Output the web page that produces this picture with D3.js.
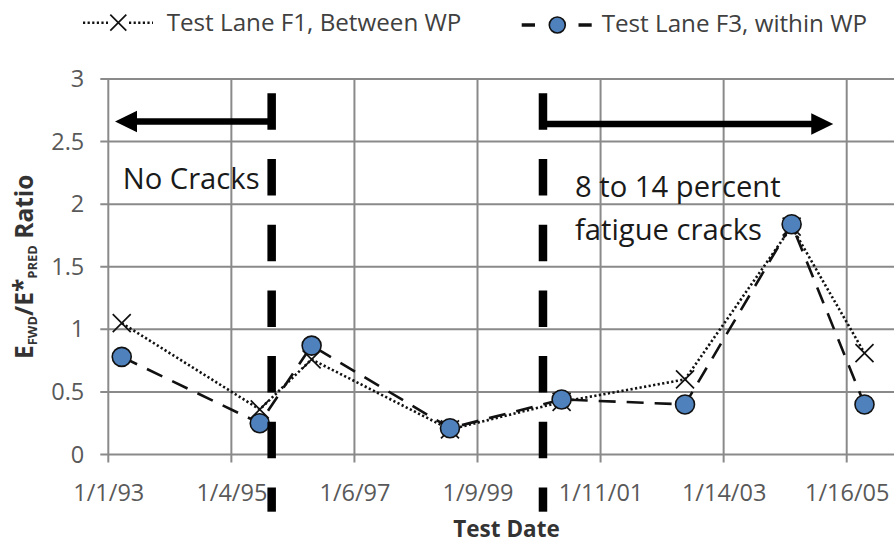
<!DOCTYPE html>
<html>
<head>
<meta charset="utf-8">
<script src="https://cdn.jsdelivr.net/npm/d3@7"></script>
<style>
  html, body { margin: 0; padding: 0; background: #fff; }
  svg { display: block; font-family: "Open Sans", "DejaVu Sans", sans-serif; }
</style>
</head>
<body>
<svg id="chart" width="894" height="543"></svg>
<script>
// Test dates (shared by both lanes)
const testDates = ["1993-03-22", "1995-06-22", "1996-04-26", "1998-07-29",
                   "2000-05-24", "2002-05-29", "2004-02-23", "2005-05-02"];
// EFWD / E*PRED ratios
const laneF1Between = [1.05, 0.36, 0.76, 0.20, 0.42, 0.60, 1.82, 0.81];
const laneF3Within  = [0.78, 0.25, 0.87, 0.21, 0.44, 0.40, 1.84, 0.40];

const xTickLabels = ["1/1/93", "1/4/95", "1/6/97", "1/9/99", "1/11/01", "1/14/03", "1/16/05"];
const yTicks = [0, 0.5, 1, 1.5, 2, 2.5, 3];
const yTickLabels = ["0", "0.5", "1", "1.5", "2", "2.5", "3"];

const seriesNames = ["Test Lane F1, Between WP", "Test Lane F3, within WP"];

// Crack-state markers: boundary dates and the arrows spanning each period
const boundaryDates = ["1995-09-01", "2000-02-03"];
const arrowTipDates = ["1993-02-10", "2004-10-28"];
const arrowLevels = [2.66, 2.64];
const periodNotes = [["No Cracks"], ["8 to 14 percent", "fatigue cracks"]];

const parseIso = d3.utcParse("%Y-%m-%d");
const parseTick = d3.utcParse("%m/%d/%y");

const svg = d3.select("#chart");
const plotLeft = 108.3, plotRight = 846.7, plotTop = 79, plotBottom = 454.5, gridRight = 894;

const tickDates = xTickLabels.map(parseTick);
const x = d3.scaleUtc()
  .domain([tickDates[0], tickDates[tickDates.length - 1]])
  .range([plotLeft, plotRight]);
const y = d3.scaleLinear().domain([0, 3]).range([plotBottom, plotTop]);

const gridColor = "#8a8a8a";
const tickColor = "#595959";

// Gridlines (extended past the axes to form the tick marks)
const grid = svg.append("g");
grid.selectAll("line.h").data(yTicks).join("line")
  .attr("x1", plotLeft - 8).attr("x2", gridRight)
  .attr("y1", d => y(d)).attr("y2", d => y(d))
  .attr("stroke", gridColor).attr("stroke-width", 2);
grid.selectAll("line.v").data(tickDates).join("line")
  .attr("x1", d => x(d)).attr("x2", d => x(d))
  .attr("y1", plotTop).attr("y2", plotBottom + 8)
  .attr("stroke", gridColor).attr("stroke-width", 2);

// Axis labels
const yAxis = d3.axisLeft(y).tickValues(yTicks)
  .tickFormat((d, i) => yTickLabels[i]).tickSize(0).tickPadding(24);
const gy = svg.append("g").attr("transform", `translate(${plotLeft},0)`).call(yAxis);
gy.select(".domain").remove();
gy.selectAll("text").attr("font-size", 23.5).attr("fill", tickColor)
  .attr("font-family", "Open Sans");

const xAxis = d3.axisBottom(x).tickValues(tickDates)
  .tickFormat((d, i) => xTickLabels[i]).tickSize(0);
const gx = svg.append("g").attr("transform", `translate(0,${plotBottom})`).call(xAxis);
gx.select(".domain").remove();
gx.selectAll("text").attr("font-size", 23.5).attr("fill", tickColor)
  .attr("font-family", "Open Sans").attr("y", 46).attr("dy", null);

// Axis titles
svg.append("text")
  .attr("x", (plotLeft + plotRight) / 2 + 29).attr("y", 537)
  .attr("text-anchor", "middle").attr("font-weight", "bold")
  .attr("font-size", 22.5).attr("fill", "#333")
  .text("Test Date");

const yTitle = svg.append("text")
  .attr("transform", `translate(33,${(plotTop + plotBottom) / 2}) rotate(-90)`)
  .attr("text-anchor", "middle").attr("font-weight", "bold")
  .attr("font-size", 24.5).attr("fill", "#333");
yTitle.append("tspan").text("E");
yTitle.append("tspan").attr("font-size", 13).attr("dy", 4).text("FWD");
yTitle.append("tspan").attr("dy", -4).text("/E");
yTitle.append("tspan").attr("dy", -2).text("*");
yTitle.append("tspan").attr("font-size", 13).attr("dy", 6).text("PRED");
yTitle.append("tspan").attr("dy", -4).text(" Ratio");

// Series
const rowsF1 = testDates.map((d, i) => ({ date: parseIso(d), v: laneF1Between[i] }));
const rowsF3 = testDates.map((d, i) => ({ date: parseIso(d), v: laneF3Within[i] }));
const line = d3.line().x(d => x(d.date)).y(d => y(d.v));

const dotStyle = { dash: "2.2,2.4", width: 2.6 };
const dashStyle = { dash: "17,11", width: 2.6 };
const circleFill = "#4f81bd";

svg.append("path").datum(rowsF1).attr("d", line)
  .attr("fill", "none").attr("stroke", "#111")
  .attr("stroke-width", dotStyle.width).attr("stroke-dasharray", dotStyle.dash);

function crossPath(cx, cy, s) {
  return `M${cx - s},${cy - s}L${cx + s},${cy + s}M${cx - s},${cy + s}L${cx + s},${cy - s}`;
}
svg.append("g").selectAll("path").data(rowsF1).join("path")
  .attr("d", d => crossPath(x(d.date), y(d.v), 9))
  .attr("stroke", "#111").attr("stroke-width", 1.7).attr("fill", "none");

svg.append("path").datum(rowsF3).attr("d", line)
  .attr("fill", "none").attr("stroke", "#111")
  .attr("stroke-width", dashStyle.width).attr("stroke-dasharray", dashStyle.dash);

svg.append("g").selectAll("circle").data(rowsF3).join("circle")
  .attr("cx", d => x(d.date)).attr("cy", d => y(d.v)).attr("r", 9.5)
  .attr("fill", circleFill).attr("stroke", "#111").attr("stroke-width", 1.6);

// Crack-period boundaries and arrows
const notes = svg.append("g");
boundaryDates.forEach((d, i) => {
  const bx = x(parseIso(d));
  notes.append("line")
    .attr("x1", bx).attr("x2", bx).attr("y1", 93.3).attr("y2", 511.7)
    .attr("stroke", "#000").attr("stroke-width", 8.5)
    .attr("stroke-dasharray", "36.5,29.2");
  const tx = x(parseIso(arrowTipDates[i]));
  const ay = y(arrowLevels[i]);
  const dir = tx < bx ? -1 : 1;
  const headLen = 22, headHalf = 10.8;
  notes.append("line")
    .attr("x1", bx).attr("x2", tx - dir * headLen + dir * 2)
    .attr("y1", ay).attr("y2", ay)
    .attr("stroke", "#000").attr("stroke-width", 6.5);
  notes.append("path")
    .attr("d", `M${tx},${ay}L${tx - dir * headLen},${ay - headHalf}L${tx - dir * headLen},${ay + headHalf}Z`)
    .attr("fill", "#000");
});

const noteFont = 29.2;
notes.append("text").attr("x", 122.7).attr("y", 189.3)
  .attr("font-size", noteFont).attr("fill", "#1a1a1a").text(periodNotes[0][0]);
periodNotes[1].forEach((t, i) => {
  notes.append("text").attr("x", 575).attr("y", 196.7 + i * 43.5)
    .attr("font-size", noteFont).attr("fill", "#1a1a1a").text(t);
});

// Legend
const legend = svg.append("g");
[[83, 108], [129, 153]].forEach(([a, b]) => {
  legend.append("line").attr("x1", a).attr("x2", b).attr("y1", 22.7).attr("y2", 22.7)
    .attr("stroke", "#111").attr("stroke-width", dotStyle.width).attr("stroke-dasharray", dotStyle.dash);
});
legend.append("path").attr("d", crossPath(118.3, 22.7, 8))
  .attr("stroke", "#111").attr("stroke-width", 1.7).attr("fill", "none");
legend.append("text").attr("x", 166.7).attr("y", 30.5)
  .attr("font-size", 24.2).attr("fill", "#404040").text(seriesNames[0]);

legend.append("line").attr("x1", 521.7).attr("x2", 535).attr("y1", 25).attr("y2", 25)
  .attr("stroke", "#111").attr("stroke-width", 3.5);
legend.append("line").attr("x1", 578.5).attr("x2", 591.7).attr("y1", 25).attr("y2", 25)
  .attr("stroke", "#111").attr("stroke-width", 3.5);
legend.append("circle").attr("cx", 557.3).attr("cy", 25).attr("r", 8)
  .attr("fill", circleFill).attr("stroke", "#111").attr("stroke-width", 1.6);
legend.append("text").attr("x", 601.7).attr("y", 31.5)
  .attr("font-size", 24.2).attr("fill", "#404040").text(seriesNames[1]);
</script>
</body>
</html>
